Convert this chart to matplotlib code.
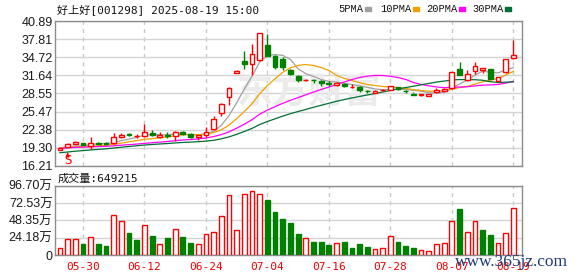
import matplotlib
matplotlib.use('Agg')
import matplotlib.pyplot as plt
from matplotlib.patches import Rectangle
import numpy as np
import pandas as pd

plt.rcParams['font.family'] = ['Liberation Sans', 'Noto Sans CJK SC']

# 交易日 (2025)
dates = ['05-27', '05-28', '05-29', '05-30', '06-03', '06-04', '06-05', '06-06', '06-09', '06-10',
         '06-11', '06-12', '06-13', '06-16', '06-17', '06-18', '06-19', '06-20', '06-23', '06-24',
         '06-25', '06-26', '06-27', '06-30', '07-01', '07-02', '07-03', '07-04', '07-07', '07-08',
         '07-09', '07-10', '07-11', '07-14', '07-15', '07-16', '07-17', '07-18', '07-21', '07-22',
         '07-23', '07-24', '07-25', '07-28', '07-29', '07-30', '07-31', '08-01', '08-04', '08-05',
         '08-06', '08-07', '08-08', '08-11', '08-12', '08-13', '08-14', '08-15', '08-18', '08-19']

opens = [19.00, 19.50, 19.95, 20.15, 19.60, 20.15, 20.12, 20.10, 21.20, 21.60,
         21.25, 21.30, 21.85, 21.15, 21.50, 21.30, 22.05, 21.60, 21.10, 21.50,
         22.45, 25.30, 28.00, 32.10, 34.10, 33.50, 34.20, 36.80, 34.90, 34.50,
         32.60, 31.50, 30.80, 30.90, 30.70, 30.32, 29.95, 30.15, 29.60, 29.70,
         29.05, 28.70, 29.10, 29.20, 29.60, 29.00, 28.55, 28.30, 28.20, 28.85,
         28.95, 29.45, 32.65, 30.85, 32.30, 32.55, 32.70, 30.70, 32.20, 34.55]
highs = [19.35, 20.05, 20.50, 20.20, 21.10, 20.30, 20.30, 21.90, 21.80, 21.90,
         21.70, 23.35, 22.30, 22.00, 22.00, 22.20, 22.20, 21.90, 21.55, 22.90,
         24.70, 27.00, 29.60, 32.60, 35.80, 37.00, 38.80, 38.70, 35.10, 34.70,
         32.80, 31.70, 31.10, 31.10, 30.80, 30.60, 30.50, 30.40, 30.10, 29.75,
         29.20, 29.10, 29.35, 29.85, 29.65, 29.20, 28.80, 28.50, 28.50, 29.45,
         29.45, 32.20, 33.90, 32.55, 33.90, 32.90, 32.70, 31.40, 34.40, 37.65]
lows = [18.85, 19.45, 19.90, 19.70, 19.05, 19.95, 19.90, 20.00, 21.00, 21.30,
        20.95, 21.20, 21.40, 21.00, 20.90, 20.55, 21.50, 21.00, 20.65, 21.20,
        22.30, 24.75, 26.60, 32.05, 32.70, 31.70, 34.00, 34.90, 32.70, 32.60,
        31.70, 30.55, 30.60, 30.40, 29.85, 29.90, 29.90, 29.70, 29.55, 28.85,
        28.70, 28.60, 29.00, 29.10, 29.20, 28.60, 28.30, 28.20, 28.10, 28.70,
        28.90, 29.40, 31.65, 30.70, 31.90, 32.00, 31.00, 30.60, 32.10, 34.35]
closes = [19.25, 19.90, 20.35, 19.75, 20.05, 20.02, 19.98, 21.10, 21.50, 21.45,
          21.35, 22.00, 21.42, 21.45, 21.40, 22.05, 21.70, 21.15, 21.45, 22.06,
          24.27, 26.70, 29.45, 32.40, 33.65, 35.30, 38.80, 35.00, 33.10, 33.00,
          31.80, 30.85, 30.90, 30.80, 30.28, 30.22, 30.35, 29.80, 29.70, 29.15,
          28.95, 29.00, 29.20, 29.75, 29.30, 28.90, 28.35, 28.40, 28.45, 29.10,
          29.35, 32.15, 31.75, 31.85, 33.20, 32.85, 31.10, 31.30, 34.35, 35.10]
# 成交量 (万手)
volumes = [9.3, 21.9, 21.9, 15.3, 24.6, 15.3, 12.6, 55.3, 47.0, 30.7,
           20.9, 41.4, 26.5, 14.9, 23.7, 35.8, 25.1, 16.7, 14.9, 28.8,
           31.6, 53.9, 83.7, 34.4, 84.6, 88.8, 84.6, 76.7, 60.0, 50.2,
           44.6, 29.3, 23.7, 18.1, 18.1, 14.0, 16.3, 18.1, 9.8, 15.3,
           11.2, 7.9, 9.3, 26.0, 18.1, 12.6, 9.8, 6.5, 5.1, 14.9,
           16.3, 47.0, 64.2, 31.6, 47.0, 34.9, 27.9, 16.3, 30.2, 64.9215]
# 窗口之前的收盘价 (只用于均线)
pre_closes = [16.2, 16.4, 16.6, 16.8, 16.9, 17.0, 17.2, 17.4, 17.5, 17.7,
              18.4, 18.7, 18.9, 19.0, 19.1, 19.2, 19.3, 19.4, 19.5, 19.6,
              19.5, 19.3, 19.4, 19.2, 19.3, 19.35, 19.45, 19.4, 19.15]

date_ticks = ['05-30', '06-12', '06-24', '07-04', '07-16', '07-28', '08-07', '08-19']
price_ticks = [16.21, 19.30, 22.38, 25.47, 28.55, 31.64, 34.72, 37.81, 40.89]
vol_ticks = [0, 24.18, 48.35, 72.53, 96.70]
ma_periods = [5, 10, 20, 30]
ma_colors = ['#a0a0a0', '#f0a000', '#ff00ff', '#006f35']

RED = '#ff0000'
GREEN = '#008000'
W, H = 578, 276

x = np.arange(len(closes))
o = np.array(opens)
c = np.array(closes)
hi = np.array(highs)
lo = np.array(lows)
up = c >= o
prev = np.r_[pre_closes[-1], c[:-1]]
vol_up = c >= prev

fig = plt.figure(figsize=(W / 100, H / 100), dpi=100)
ax = fig.add_axes([55.3 / W, 1 - 166 / H, 467 / W, 145 / H])
axv = fig.add_axes([55.3 / W, 1 - 255 / H, 467 / W, 69.3 / H])

# 均线
allc = pd.Series(pre_closes + closes)
for n, col in zip(ma_periods, ma_colors):
    ma = allc.rolling(n).mean().iloc[len(pre_closes):].values
    ax.plot(x, ma, color=col, lw=0.9, zorder=2)

# K线
body_lo = np.minimum(o, c)
body_hi = np.maximum(o, c)
cols = np.where(up, RED, GREEN)
ax.vlines(x, lo, body_lo, colors=cols, lw=1, zorder=3)
ax.vlines(x, body_hi, hi, colors=cols, lw=1, zorder=3)
ax.bar(x, body_hi - body_lo, bottom=body_lo, width=0.62,
       color=np.where(up, 'white', GREEN), edgecolor=cols, linewidth=1, zorder=4)

# 成交量
vcols = np.where(vol_up, RED, GREEN)
axv.bar(x, volumes, width=0.62, color=np.where(vol_up, 'white', GREEN),
        edgecolor=vcols, linewidth=1, zorder=3)

tick_pos = [dates.index(d) for d in date_ticks]
for a in (ax, axv):
    a.set_xlim(-0.6, 60.17)
    a.set_xticks(tick_pos)
    a.xaxis.grid(True, color='#c8c8c8', ls=(0, (3, 3)), lw=1)
    a.yaxis.grid(True, color='#d4d4d4', ls='-', lw=1)
    a.set_axisbelow(True)
    for s in a.spines.values():
        s.set_color('#8c8c8c')
        s.set_linewidth(1)
    a.tick_params(length=0, pad=2, labelsize=9, labelcolor='#1a1a1a')

ax.set_ylim(price_ticks[0], price_ticks[-1])
ax.set_yticks(price_ticks)
ax.set_yticklabels(['%.2f' % v for v in price_ticks])
ax.set_xticklabels([])

axv.set_ylim(0, vol_ticks[-1])
axv.set_yticks(vol_ticks)
axv.set_yticklabels(['0' if v == 0 else '%.2f万' % v for v in vol_ticks])
axv.set_xticklabels(date_ticks, color='#ee0000', fontsize=8, family='DejaVu Sans Mono')
axv.tick_params(axis='x', pad=5)

# S 标记
ax.annotate('', xy=(1, 18.5), xytext=(1, 17.85),
            arrowprops=dict(arrowstyle='-|>', color=RED, lw=1, mutation_scale=5))
ax.text(1, 17.1, 'S', color=RED, ha='center', va='center', fontsize=8.5, family='DejaVu Sans')

# 水印
ax.text(309 / W, 1 - 92 / H, '东方财富', transform=fig.transFigure, fontsize=26,
        color='#ebebeb', weight='bold', ha='center', va='center', zorder=0.6,
        family='Noto Sans CJK SC')

# 标题与图例
fig.text(57 / W, 1 - 10 / H, '好上好[001298] 2025-08-19 15:00', fontsize=8, va='center',
         family=['DejaVu Sans Mono', 'Noto Sans CJK SC'], color='#111111')
leg_x = [338, 380, 426, 472]
sq_x = [365, 413, 459, 505]
for n, col, tx, sx in zip(ma_periods, ma_colors, leg_x, sq_x):
    fig.text(tx / W, 1 - 9 / H, '%dPMA' % n, fontsize=7.5, va='center',
             family='Liberation Mono', color='#111111')
    fig.add_artist(Rectangle((sx / W, 1 - 10.7 / H), 5.5 / W, 3.6 / H,
                             transform=fig.transFigure, color=col))
fig.text(58 / W, 1 - 178.5 / H, '成交量:%d' % round(volumes[-1] * 10000), fontsize=8,
         va='center', family=['DejaVu Sans Mono', 'Noto Sans CJK SC'], color='#111111')

fig.text(455 / W, 1 - 266.5 / H, 'www.365jz.com', fontsize=12.5, va='baseline',
         family='Liberation Serif', color='#1f3d78')

fig.savefig('out.png', dpi=100)
